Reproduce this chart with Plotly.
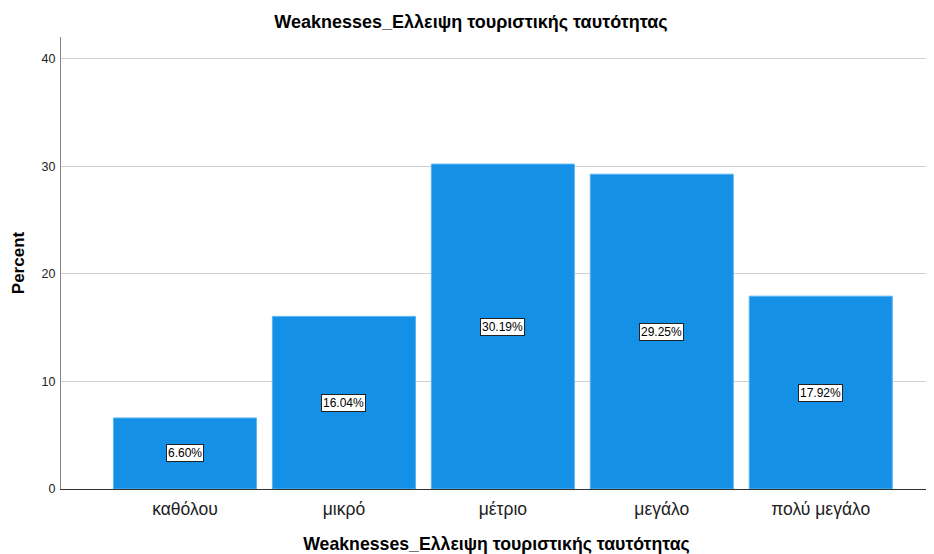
import plotly.graph_objects as go

categories = ["καθόλου", "μικρό", "μέτριο", "μεγάλο", "πολύ μεγάλο"]
percents = [6.60, 16.04, 30.19, 29.25, 17.92]
labels = ["6.60%", "16.04%", "30.19%", "29.25%", "17.92%"]
title_text = "Weaknesses_Ελλειψη τουριστικής ταυτότητας"

fig = go.Figure()
fig.add_trace(go.Bar(
    x=list(range(len(categories))), y=percents,
    marker=dict(color="#1490e6", line=dict(color="#5ab4f0", width=1)),
    width=0.9, hoverinfo="skip",
))
for i, (v, t) in enumerate(zip(percents, labels)):
    fig.add_annotation(x=i, y=v / 2, text=t, showarrow=False,
                       bgcolor="white", bordercolor="#222", borderwidth=1, borderpad=1,
                       font=dict(family="Arial, Liberation Sans", size=12, color="black"))

fig.update_layout(
    width=926, height=546,
    margin=dict(l=53, r=2, t=29, b=65),
    paper_bgcolor="white", plot_bgcolor="white",
    title=dict(text="<b>" + title_text + "</b>", x=0.5, xanchor="center", y=0.975, yanchor="middle",
               font=dict(family="Arial, Liberation Sans", size=18, color="black")),
    showlegend=False,
    font=dict(family="Arial, Liberation Sans", color="black"),
)
fig.update_xaxes(
    range=[-0.78, 4.7], tickmode="array", tickvals=list(range(len(categories))), ticktext=categories,
    tickfont=dict(size=17.5, color="#222"), showline=True, linecolor="#333", linewidth=1,
    showgrid=False, ticks="", zeroline=False, ticklabelstandoff=4,
    title=dict(text="<b>" + title_text + "</b>", font=dict(size=17.7, color="black"), standoff=20),
)
fig.update_yaxes(
    range=[0, 42], tickvals=[0, 10, 20, 30, 40], tickfont=dict(size=12.5, color="#222"),
    showline=True, linecolor="#888", linewidth=1, showgrid=True, gridcolor="#d0d0d0",
    zeroline=False, ticks="", ticklen=0, ticklabelstandoff=2,
    title=dict(text="<b>Percent</b>", font=dict(size=17, color="black"), standoff=12),
)
fig.write_html("out.html")
